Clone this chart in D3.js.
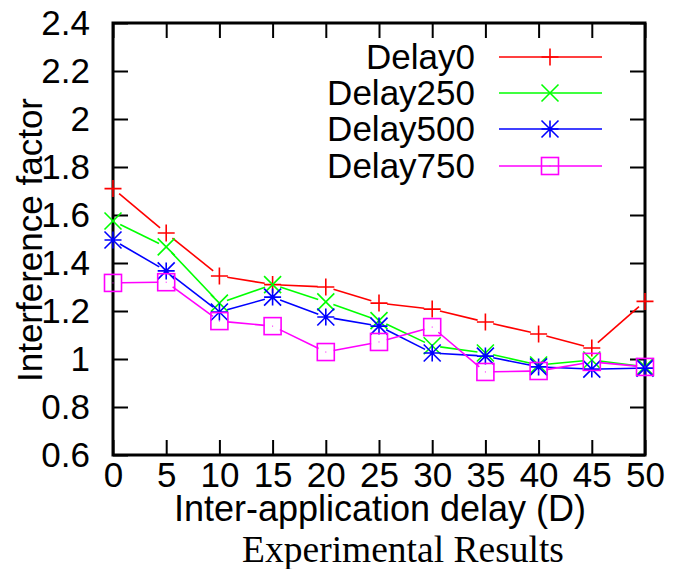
<!DOCTYPE html>
<html>
<head>
<meta charset="utf-8">
<script src="https://cdn.jsdelivr.net/npm/d3@7"></script>
<style>
  body { margin: 0; background: #fff; }
  text { font-family: "Liberation Sans", Arial, sans-serif; fill: #000; }
</style>
</head>
<body>
<svg id="chart" width="673" height="569"></svg>
<script>
// values
var xValues = [0, 5, 10, 15, 20, 25, 30, 35, 40, 45, 50];
var delay0   = [1.71, 1.525, 1.346, 1.31, 1.30, 1.233, 1.208, 1.154, 1.104, 1.046, 1.24];
var delay250 = [1.575, 1.467, 1.233, 1.31, 1.238, 1.16, 1.055, 1.025, 0.975, 0.996, 0.967];
var delay500 = [1.496, 1.367, 1.196, 1.258, 1.175, 1.137, 1.025, 1.012, 0.967, 0.958, 0.962];
var delay750 = [1.317, 1.32, 1.158, 1.137, 1.029, 1.071, 1.133, 0.946, 0.95, 0.988, 0.967];
var seriesNames = ['Delay0', 'Delay250', 'Delay500', 'Delay750'];
var yTicks = [0.6, 0.8, 1, 1.2, 1.4, 1.6, 1.8, 2, 2.2, 2.4];

var series = [
    {name: seriesNames[0], values: delay0,   color: '#ff0000', shape: 'plus'},
    {name: seriesNames[1], values: delay250, color: '#00ff00', shape: 'cross'},
    {name: seriesNames[2], values: delay500, color: '#0000ff', shape: 'star'},
    {name: seriesNames[3], values: delay750, color: '#ff00ff', shape: 'square'}
];

var plotLeft = 113, plotRight = 645, plotTop = 23, plotBottom = 455;

var svg = d3.select('#chart');

var x = d3.scaleLinear().domain([0, 50]).range([plotLeft, plotRight]);
var y = d3.scaleLinear().domain([0.6, 2.4]).range([plotBottom, plotTop]);

// ticks (inward, mirrored)
var tickLen = 15;
var axisG = svg.append('g');

axisG.append('g')
    .attr('transform', 'translate(0,' + plotBottom + ')')
    .call(d3.axisBottom(x).tickValues(xValues).tickSizeInner(-tickLen).tickSizeOuter(0).tickPadding(7))
    .call(function(g) { g.select('.domain').remove(); });
axisG.append('g')
    .attr('transform', 'translate(0,' + plotTop + ')')
    .call(d3.axisTop(x).tickValues(xValues).tickSizeInner(-tickLen).tickSizeOuter(0).tickFormat(''))
    .call(function(g) { g.select('.domain').remove(); });
axisG.append('g')
    .attr('transform', 'translate(' + plotLeft + ',0)')
    .call(d3.axisLeft(y).tickValues(yTicks).tickSizeInner(-tickLen).tickSizeOuter(0).tickPadding(23).tickFormat(d3.format('')))
    .call(function(g) { g.select('.domain').remove(); });
axisG.append('g')
    .attr('transform', 'translate(' + plotRight + ',0)')
    .call(d3.axisRight(y).tickValues(yTicks).tickSizeInner(-tickLen).tickSizeOuter(0).tickFormat(''))
    .call(function(g) { g.select('.domain').remove(); });

axisG.selectAll('.tick line').attr('stroke', '#000').attr('stroke-width', 2);
axisG.selectAll('.tick text').style('font-size', '35px').attr('fill', '#000')
    .style('font-family', '"Liberation Sans", Arial, sans-serif');

// frame
svg.append('rect')
    .attr('x', plotLeft).attr('y', plotTop)
    .attr('width', plotRight - plotLeft).attr('height', plotBottom - plotTop)
    .attr('fill', 'none').attr('stroke', '#000').attr('stroke-width', 3);

// marker drawing
function drawMarker(g, shape, cx, cy, color) {
    var s = 8.5;
    if (shape === 'plus') {
        g.append('path').attr('d', 'M' + (cx - s) + ',' + cy + 'H' + (cx + s) + 'M' + cx + ',' + (cy - s) + 'V' + (cy + s));
    } else if (shape === 'cross') {
        g.append('path').attr('d', 'M' + (cx - s) + ',' + (cy - s) + 'L' + (cx + s) + ',' + (cy + s) + 'M' + (cx - s) + ',' + (cy + s) + 'L' + (cx + s) + ',' + (cy - s));
    } else if (shape === 'star') {
        g.append('path').attr('d', 'M' + (cx - s) + ',' + cy + 'H' + (cx + s) + 'M' + cx + ',' + (cy - s) + 'V' + (cy + s) +
            'M' + (cx - s) + ',' + (cy - s) + 'L' + (cx + s) + ',' + (cy + s) + 'M' + (cx - s) + ',' + (cy + s) + 'L' + (cx + s) + ',' + (cy - s));
    } else {
        g.append('rect').attr('x', cx - s).attr('y', cy - s).attr('width', 2 * s).attr('height', 2 * s).attr('fill', 'none');
        g.append('rect').attr('x', cx - 0.5).attr('y', cy - 0.5).attr('width', 1).attr('height', 1).attr('fill', color).attr('stroke', 'none');
    }
}

// lines with small gaps at the points, like gnuplot linespoints
var gap = 8;
series.forEach(function(s) {
    var g = svg.append('g').attr('stroke', s.color).attr('stroke-width', 1.6).attr('fill', 'none');
    for (var i = 0; i < xValues.length - 1; i++) {
        var x1 = x(xValues[i]), y1 = y(s.values[i]);
        var x2 = x(xValues[i + 1]), y2 = y(s.values[i + 1]);
        var dx = x2 - x1, dy = y2 - y1, len = Math.sqrt(dx * dx + dy * dy);
        if (len <= 2 * gap) continue;
        var ux = dx / len, uy = dy / len;
        g.append('line')
            .attr('x1', x1 + ux * gap).attr('y1', y1 + uy * gap)
            .attr('x2', x2 - ux * gap).attr('y2', y2 - uy * gap);
    }
    xValues.forEach(function(xv, i) {
        drawMarker(g, s.shape, x(xv), y(s.values[i]), s.color);
    });
});

// legend
var legendY = [57, 93, 129, 166];
series.forEach(function(s, i) {
    var g = svg.append('g').attr('stroke', s.color).attr('stroke-width', 1.6).attr('fill', 'none');
    g.append('line').attr('x1', 499).attr('x2', 602).attr('y1', legendY[i]).attr('y2', legendY[i]);
    drawMarker(g, s.shape, 550, legendY[i], s.color);
    svg.append('text')
        .attr('x', 475).attr('y', legendY[i])
        .attr('dy', '0.35em')
        .attr('text-anchor', 'end')
        .style('font-size', '35px')
        .text(s.name);
});

// axis titles
svg.append('text')
    .attr('transform', 'translate(42,' + ((plotTop + plotBottom) / 2 + 1) + ') rotate(-90)')
    .attr('text-anchor', 'middle')
    .style('font-size', '35px')
    .text('Interference factor');

svg.append('text')
    .attr('x', 380).attr('y', 521)
    .attr('text-anchor', 'middle')
    .style('font-size', '36px')
    .text('Inter-application delay (D)');

svg.append('text')
    .attr('x', 403).attr('y', 562)
    .attr('text-anchor', 'middle')
    .style('font-family', '"Liberation Serif", "Times New Roman", serif')
    .style('font-size', '37.5px')
    .text('Experimental Results');
</script>
</body>
</html>
